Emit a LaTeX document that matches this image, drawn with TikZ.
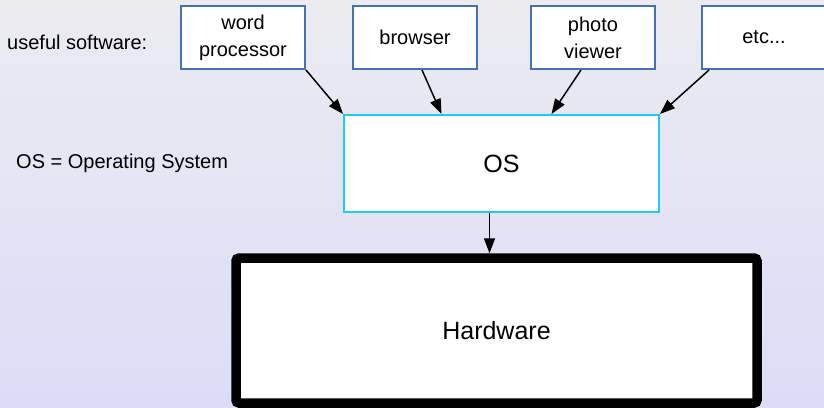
\documentclass[tikz,border=0pt]{standalone}
\usepackage{fontspec}
\setmainfont{Liberation Sans}
\usetikzlibrary{arrows.meta}
\definecolor{bgtop}{HTML}{EBEBF0}
\definecolor{bgbottom}{HTML}{DCDCF7}
\definecolor{appblue}{HTML}{4472B4}
\definecolor{oscyan}{HTML}{1ECBF7}
\begin{document}
\begin{tikzpicture}[x=1pt,y=-1pt]
	\useasboundingbox (0,0) rectangle (824,407);
	\shade[top color=bgtop,bottom color=bgbottom] (0,0) rectangle (824,407);
		\begin{scope}[every node/.style={rectangle,draw=appblue,line width=2pt,fill=white,
			minimum width=124pt,minimum height=63pt,align=center,font=\fontsize{20}{27}\selectfont}]
			\node (W) at (243,37.5) {word\\processor};
			\node (B) at (415,37.5) {browser};
			\node (P) at (593,37.5) {photo\\viewer};
			\node (E) at (764,37.5) {etc...};
		\end{scope}
	\node (OS) at (501.5,163.5) [rectangle,draw=oscyan,line width=2pt,fill=white,
		minimum width=315pt,minimum height=97pt,font=\fontsize{25}{30}\selectfont] {OS};
	\node (HW) at (496.5,330.5) [rectangle,draw=black,line width=9.5pt,fill=white,rounded corners=3pt,
		minimum width=521pt,minimum height=145pt,font=\fontsize{25}{30}\selectfont] {Hardware};
	\begin{scope}[every node/.style={inner sep=0pt,anchor=west,font=\fontsize{20}{24}\selectfont}]
		\node (useful) at (7,42) {useful software:};
		\node (legend) at (16,163) {OS = Operating System};
	\end{scope}

\begin{scope}[
	every edge/.style={draw=black,line width=1.5pt}]
\path [-{Triangle[length=15pt,width=11pt]}] (W.south east) edge (OS.north west);
\path [-{Triangle[length=15pt,width=11pt]}] ([xshift=7pt]B.south) edge ([xshift=-60pt]OS.north);
\path [-{Triangle[length=15pt,width=11pt]}] ([xshift=-12pt]P.south) edge ([xshift=50pt]OS.north);
\path [-{Triangle[length=15pt,width=11pt]}] ([xshift=8pt]E.south west) edge (OS.north east);
\path [-{Triangle[length=15pt,width=11pt]}] ([xshift=-12pt]OS.south) edge ([xshift=-12pt]OS.south |- HW.north);
\end{scope}
\end{tikzpicture}
\end{document}
